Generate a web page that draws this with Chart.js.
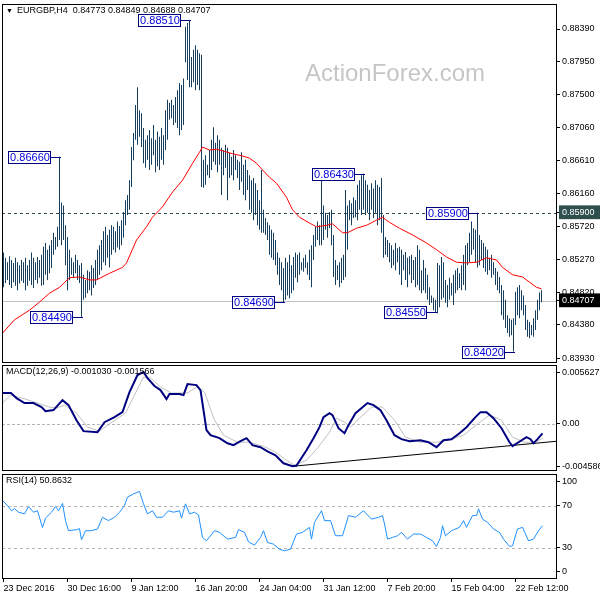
<!DOCTYPE html>
<html>
<head>
<meta charset="utf-8">
<script src="https://cdn.jsdelivr.net/npm/chart.js@4.4.0/dist/chart.umd.min.js"></script>
<style>
html, body { margin: 0; padding: 0; background: #fff; }
#wrap { position: relative; width: 600px; height: 600px; overflow: hidden; }
canvas { position: absolute; left: 0; }
</style>
</head>
<body>
<div id="wrap">
  <canvas id="main" width="600" height="364" style="top:0px"></canvas>
  <canvas id="macd" width="600" height="108" style="top:364px"></canvas>
  <canvas id="rsi" width="600" height="128" style="top:472px"></canvas>
</div>
<script>
// EURGBP H4 bars, 23 Dec 2016 .. 23 Feb 2017 (one entry per bar)
const highs = [
  0.8536,0.8529,0.8523,0.8531,0.8526,0.8522,0.8529,0.8523,0.8519,0.8526,
  0.8523,0.8529,0.8519,0.8526,0.8536,0.8529,0.8523,0.8530,0.8526,0.8533,
  0.8544,0.8549,0.8540,0.8546,0.8553,0.8563,0.8557,0.8571,0.8666,0.8604,
  0.8600,0.8573,0.8557,0.8540,0.8529,0.8523,0.8533,0.8526,0.8519,0.8522,
  0.8506,0.8499,0.8512,0.8510,0.8519,0.8515,0.8526,0.8540,0.8546,0.8553,
  0.8565,0.8571,0.8560,0.8567,0.8573,0.8571,0.8565,0.8578,0.8572,0.8580,
  0.8591,0.8607,0.8614,0.8634,0.8679,0.8698,0.8736,0.8760,0.8729,0.8725,
  0.8705,0.8689,0.8695,0.8702,0.8691,0.8709,0.8689,0.8700,0.8693,0.8705,
  0.8695,0.8729,0.8743,0.8739,0.8743,0.8736,0.8747,0.8756,0.8766,0.8763,
  0.8772,0.8842,0.8847,0.8851,0.8801,0.8811,0.8817,0.8811,0.8806,0.8804,
  0.8662,0.8668,0.8655,0.8675,0.8689,0.8706,0.8685,0.8695,0.8689,0.8678,
  0.8675,0.8682,0.8678,0.8671,0.8666,0.8675,0.8668,0.8662,0.8659,0.8672,
  0.8655,0.8662,0.8648,0.8641,0.8634,0.8637,0.8630,0.8621,0.8607,0.8648,
  0.8594,0.8583,0.8577,0.8573,0.8567,0.8563,0.8553,0.8536,0.8529,0.8523,
  0.8515,0.8529,0.8523,0.8533,0.8519,0.8530,0.8536,0.8533,0.8536,0.8523,
  0.8529,0.8533,0.8523,0.8540,0.8546,0.8560,0.8571,0.8578,0.8573,0.8634,
  0.8600,0.8590,0.8587,0.8591,0.8594,0.8560,0.8526,0.8519,0.8523,0.8529,
  0.8533,0.8621,0.8600,0.8607,0.8603,0.8611,0.8607,0.8628,0.8634,0.8641,
  0.8643,0.8634,0.8628,0.8621,0.8630,0.8623,0.8634,0.8628,0.8625,0.8637,
  0.8587,0.8557,0.8553,0.8549,0.8546,0.8540,0.8549,0.8542,0.8544,0.8540,
  0.8533,0.8537,0.8529,0.8531,0.8533,0.8526,0.8530,0.8546,0.8540,0.8512,
  0.8526,0.8515,0.8506,0.8489,0.8478,0.8475,0.8472,0.8522,0.8519,0.8530,
  0.8523,0.8499,0.8492,0.8502,0.8495,0.8506,0.8512,0.8515,0.8508,0.8519,
  0.8533,0.8546,0.8549,0.8563,0.8578,0.8569,0.8567,0.8590,0.8560,0.8553,
  0.8549,0.8544,0.8540,0.8529,0.8533,0.8523,0.8515,0.8510,0.8503,0.8492,
  0.8485,0.8472,0.8451,0.8447,0.8445,0.8447,0.8483,0.8489,0.8492,0.8485,
  0.8478,0.8465,0.8445,0.8442,0.8438,0.8447,0.8458,0.8472,0.8482,0.84849
];
const lows = [
  0.8489,0.8495,0.8499,0.8492,0.8488,0.8496,0.8491,0.8485,0.8494,0.8498,
  0.8495,0.8485,0.8491,0.8498,0.8492,0.8488,0.8499,0.8494,0.8502,0.8491,
  0.8492,0.8506,0.8499,0.8508,0.8515,0.8533,0.8540,0.8544,0.8553,0.8546,
  0.8553,0.8519,0.8485,0.8499,0.8506,0.8502,0.8508,0.8499,0.8495,0.8449,
  0.8472,0.8475,0.8481,0.8485,0.8478,0.8488,0.8492,0.8499,0.8506,0.8512,
  0.8523,0.8519,0.8529,0.8516,0.8533,0.8540,0.8536,0.8543,0.8540,0.8546,
  0.8556,0.8573,0.8587,0.8594,0.8625,0.8661,0.8689,0.8682,0.8693,0.8679,
  0.8657,0.8651,0.8662,0.8648,0.8655,0.8668,0.8645,0.8653,0.8648,0.8662,
  0.8655,0.8675,0.8689,0.8716,0.8718,0.8709,0.8712,0.8705,0.8695,0.8702,
  0.8709,0.8794,0.8770,0.8760,0.8760,0.8767,0.8756,0.8763,0.8756,0.8625,
  0.8624,0.8628,0.8641,0.8637,0.8648,0.8659,0.8655,0.8645,0.8655,0.8614,
  0.8641,0.8651,0.8607,0.8637,0.8641,0.8634,0.8648,0.8637,0.8621,0.8632,
  0.8614,0.8607,0.8621,0.8594,0.8590,0.8580,0.8587,0.8573,0.8567,0.8563,
  0.8563,0.8560,0.8553,0.8533,0.8529,0.8526,0.8519,0.8506,0.8492,0.8485,
  0.8469,0.8472,0.8478,0.8474,0.8481,0.8485,0.8502,0.8496,0.8506,0.8512,
  0.8510,0.8515,0.8506,0.8499,0.8489,0.8526,0.8544,0.8553,0.8546,0.8546,
  0.8553,0.8567,0.8556,0.8569,0.8546,0.8503,0.8492,0.8499,0.8489,0.8495,
  0.8499,0.8503,0.8540,0.8580,0.8573,0.8583,0.8584,0.8580,0.8594,0.8587,
  0.8594,0.8587,0.8590,0.8580,0.8594,0.8583,0.8590,0.8573,0.8580,0.8563,
  0.8529,0.8533,0.8530,0.8523,0.8515,0.8519,0.8512,0.8523,0.8506,0.8492,
  0.8512,0.8499,0.8489,0.8506,0.8495,0.8499,0.8489,0.8492,0.8485,0.8481,
  0.8485,0.8481,0.8472,0.8465,0.8468,0.8458,0.8455,0.8454,0.8462,0.8472,
  0.8475,0.8468,0.8462,0.8472,0.8478,0.8465,0.8481,0.8485,0.8488,0.8485,
  0.8492,0.8485,0.8519,0.8523,0.8533,0.8540,0.8523,0.8516,0.8519,0.8526,
  0.8515,0.8510,0.8506,0.8512,0.8502,0.8506,0.8492,0.8485,0.8481,0.8451,
  0.8445,0.8434,0.8427,0.8422,0.8424,0.8402,0.8438,0.8451,0.8447,0.8458,
  0.8451,0.8431,0.8422,0.8420,0.8424,0.8422,0.8431,0.8445,0.8458,0.84688
];

// moving average (red), read at bar positions
const maIdx = [-0.5,5.5,13,18,23,28,33,38,43,46.5,53,59.5,61.5,66.5,71.5,74.5,79.5,84.5,89.5,94.5,98,99.5,
  103,106.5,109.5,114.5,119.5,123,126.5,129.5,133,136.5,141.5,144.5,148,153,156.5,161.5,164.5,169.5,172,
  176.5,181.5,186.5,189.5,193,198,204.5,211.5,216.5,221.5,226.5,231.5,236.5,241.5,246.5,249.5,254.5,259.5,263,266.5,269];
const maVal = [0.8427,0.8445,0.8458,0.8469,0.8481,0.8489,0.8502,0.8503,0.8499,0.8499,0.8508,0.8516,0.8522,0.8553,
  0.8571,0.8584,0.8598,0.8618,0.8634,0.8657,0.8672,0.8679,0.8675,0.8676,0.8674,0.8670,0.8667,0.8664,0.8657,0.8648,
  0.8638,0.8630,0.8611,0.8594,0.8584,0.8576,0.8571,0.8573,0.8575,0.8563,0.8563,0.8569,0.8573,0.8580,0.8584,0.8577,
  0.8569,0.8560,0.8549,0.8540,0.8530,0.8523,0.8522,0.8523,0.8529,0.8526,0.8516,0.8506,0.8503,0.8496,0.8489,0.8487];

// labelled highs / lows
const markIdx = [93, 28, 39, 140, 180, 237, 216, 255];
const markVal = [0.8851, 0.8666, 0.8449, 0.8469, 0.8643, 0.8590, 0.8455, 0.8402];

const levelLine = 0.8590;
const lastClose = 0.84707;
const mainTicks = [0.8839,0.8795,0.8750,0.8706,0.8661,0.8616,0.8572,0.8527,0.8482,0.8438,0.8393, levelLine, lastClose];
const titleText = 'EURGBP,H4  0.84773 0.84849 0.84688 0.84707';

// MACD(12,26,9)
const macdIdx = [-0.5,3.75,6.5,10.5,15,19,21,25,29.5,32.5,36.5,40,47,50.5,55.5,59.5,63,67,70,72,75.5,78.5,81.5,83,88,90,92,
  96.5,98.5,101.5,103.5,108,112,115,118.5,121.5,124.5,128.5,132,136,140,144.5,146.5,151.5,155,158,160,163,164.5,167.5,
  170.5,172.5,176,182,185,188.5,191.5,195.5,199,203,208.5,212.5,216.5,220,224,228,231.5,235.5,238.5,241.5,245,249,253,
  254.5,257.5,261.5,263.5,265,267,269.5];
const macdVal = [0.00335,0.00335,0.00280,0.00226,0.00226,0.00183,0.00139,0.00150,0.00258,0.00204,0.00041,-0.00078,-0.00089,
  0.00019,0.00074,0.00128,0.00345,0.00530,0.00563,0.00497,0.00411,0.00367,0.00269,0.00324,0.00324,0.00313,0.00432,0.00421,
  0.00367,-0.00067,-0.00122,-0.00154,-0.00209,-0.00230,-0.00187,-0.00154,-0.00230,-0.00252,-0.00296,-0.00339,-0.00426,
  -0.00459,-0.00450,-0.00285,-0.00154,-0.00035,0.00074,0.00117,0.00096,-0.00046,-0.00100,-0.00013,0.00117,0.00226,0.00204,
  0.00150,0.00041,-0.00122,-0.00165,-0.00187,-0.00176,-0.00198,-0.00252,-0.00176,-0.00165,-0.00100,-0.00035,0.00063,0.00128,
  0.00128,0.00063,-0.00046,-0.00198,-0.00241,-0.00198,-0.00143,-0.00165,-0.00209,-0.00165,-0.00103];
const signalIdx = [-0.5,3.5,9.5,17,23,26.5,30.5,36.5,42,48,53.5,61,65,70,73.5,78.5,84,92,96.5,100.5,105.5,110,117,122.5,
  130,136,141.5,145.5,151.5,157,163,166.5,170.5,173.5,178,184,189.5,195.5,201,208.5,216.5,222,230,237.5,243,249,254.5,
  260.5,266,269.5];
const signalVal = [0.00226,0.00313,0.00280,0.00226,0.00183,0.00172,0.00204,0.00117,-0.00035,-0.00078,0.00009,0.00117,
  0.00291,0.00508,0.00497,0.00400,0.00335,0.00335,0.00400,0.00345,0.00041,-0.00122,-0.00198,-0.00198,-0.00241,-0.00306,
  -0.00393,-0.00448,-0.00393,-0.00263,-0.00089,0.00063,0.00019,-0.00035,0.00063,0.00183,0.00183,0.00041,-0.00143,-0.00198,
  -0.00198,-0.00176,-0.00122,0.00009,0.00096,0.00041,-0.00143,-0.00198,-0.00198,-0.001566];
const trendIdx = [144.5, 276.75];
const trendVal = [-0.00459, -0.00187];
const macdTicks = [0.005627, 0, -0.004586];
const macdTickText = ['0.005627', '0.00', '-0.004586'];
const macdTitle = 'MACD(12,26,9) -0.001030 -0.001566';

// RSI(14)
const rsiIdx = [-0.5,2,4,5.5,7.5,10.5,12.5,15,17,19.5,21,24,26,27.5,29.5,31,32.5,36.5,38,39,41,44,47,49.5,52.5,55.5,58,
  60.5,62,65,68,70,72,74.5,76.5,79.5,82.5,85,88,89,91,93,95.5,97.5,99.5,101.5,105.5,108,112,116,117.5,120.5,122.5,125.5,
  128.5,130,132,135,138,140.5,143.5,146.5,149.5,153,154,155.5,159,160.5,163.5,166,169.5,172.5,176,180,184,187.5,189.5,
  190.5,192,194.5,197,199,202,205,208.5,211.5,214.5,216.5,218.5,219.5,221,224,228,230,231.5,234.5,236.5,237.5,239.5,
  242,245,248,250,253,254.5,257,259.5,262.5,265,267.5,269.5];
const rsiVal = [74.8,70,65,67,63.6,62,69,63.6,65,49,58,63.6,69,65,72,55.6,46,47,48,37.4,46,46,47.6,58.8,55.6,58.8,63.6,
  70,78,81,83.4,71.6,62,65,58.8,58.8,65,63.6,65,58,71.6,62,63.6,61,39.6,36.4,46,44.4,38,39.6,47,44.4,35.4,32.2,
  39.6,46,34.8,33.2,28.4,26.8,28.4,42.8,44.4,49.2,38,54,65,55.6,55.6,41.2,41.2,60.4,58.8,65,57,58.8,60.4,
  52.4,38,39.6,41.2,44.4,38,42.8,42.8,39.6,36.4,31,39.6,50.8,41.2,46,49.2,55.6,49.2,60.4,60.4,66.8,57,
  54,47.6,44.4,38,31,31.6,47.6,49.2,36.4,38,46,50.86];
const rsiLevels = [70, 30];
const rsiTicks = [92.7, 70, 30, 6.7];
const rsiTickText = ['100', '70', '30', '0'];
const rsiTitle = 'RSI(14) 50.8632';

// time axis
const timeIdx = [0, 32, 64, 96, 128, 160, 192, 224, 256];
const timeText = ['23 Dec 2016', '30 Dec 16:00', '9 Jan 12:00', '16 Jan 20:00', '24 Jan 04:00',
  '31 Jan 12:00', '7 Feb 20:00', '15 Feb 04:00', '22 Feb 12:00'];

const FONT = "'Liberation Sans', Arial, 'DejaVu Sans', sans-serif";
const axFont = { family: FONT, size: 9 };
const X_MIN = -0.75, X_MAX = 276.75;

const pts = (xs, ys) => xs.map((x, i) => ({ x: x, y: ys[i] }));

function rightAxis(min, max, tickVals, textFn) {
  return {
    position: 'right', min: min, max: max,
    afterFit: s => { s.width = 43; s.paddingTop = 0; s.paddingBottom = 0; },
    afterBuildTicks: s => { s.ticks = tickVals.map(v => ({ value: v })); },
    grid: { drawOnChartArea: false, drawTicks: true, tickLength: 3, color: '#000' },
    border: { display: false },
    ticks: { autoSkip: false, padding: 2, color: '#000', font: axFont, callback: textFn }
  };
}

function hiddenX() {
  return { type: 'linear', min: X_MIN, max: X_MAX, display: false, offset: false, grid: { offset: false } };
}

function decor(o) {
  return {
    id: 'decor',
    beforeDatasetsDraw(chart) {
      const ctx = chart.ctx, a = chart.chartArea, ys = chart.scales.y;
      ctx.save();
      (o.levels || []).forEach(l => {
        const y = Math.round(ys.getPixelForValue(l.v)) + 0.5;
        ctx.strokeStyle = l.c; ctx.lineWidth = 1; ctx.setLineDash(l.d || []);
        ctx.beginPath(); ctx.moveTo(a.left, y); ctx.lineTo(a.right, y); ctx.stroke();
      });
      ctx.setLineDash([]);
      if (o.watermark) {
        ctx.fillStyle = '#c6c6c6';
        ctx.font = '24px ' + FONT;
        ctx.textBaseline = 'alphabetic';
        ctx.fillText(o.watermark, 305, 81);
      }
      ctx.restore();
    },
    afterDatasetsDraw(chart) {
      if (!o.marks) return;
      const ctx = chart.ctx, xs = chart.scales.x, ys = chart.scales.y;
      ctx.save();
      ctx.lineWidth = 1;
      markIdx.forEach((bi, k) => {
        const bx = Math.round(xs.getPixelForValue(bi));
        const y = Math.round(ys.getPixelForValue(markVal[k]));
        const right = bx - 9, left = right - 43;
        ctx.strokeStyle = '#000080';
        ctx.beginPath(); ctx.moveTo(right, y + 0.5); ctx.lineTo(bx + 1, y + 0.5); ctx.stroke();
        ctx.fillStyle = '#fff';
        ctx.fillRect(left, y - 6, 43, 13);
        ctx.strokeRect(left + 0.5, y - 5.5, 42, 12);
        ctx.fillStyle = '#0000dd';
        ctx.font = '11px ' + FONT;
        ctx.textAlign = 'center'; ctx.textBaseline = 'middle';
        ctx.fillText(markVal[k].toFixed(5), left + 22, y + 1);
      });
      ctx.restore();
    },
    afterDraw(chart) {
      const ctx = chart.ctx, a = chart.chartArea;
      ctx.save();
      ctx.strokeStyle = '#000'; ctx.lineWidth = 1;
      ctx.strokeRect(a.left + 0.5, a.top + 0.5, a.right - a.left - 1, a.bottom - a.top - 1);
      ctx.fillStyle = '#000';
      ctx.textBaseline = 'middle'; ctx.textAlign = 'left';
      if (o.arrow) {
        ctx.font = '7px ' + FONT;
        ctx.fillText('\u25BC', 6, a.top + 7);
      }
      ctx.font = '9px ' + FONT;
      ctx.fillText(o.title, o.titleX, a.top + 7);
      ctx.restore();
    }
  };
}

const common = {
  animation: false, responsive: false, events: [],
  plugins: { legend: { display: false }, tooltip: { enabled: false } }
};

const isHl = v => v === levelLine || v === lastClose;

const mainY = rightAxis(0.838643, 0.887288, mainTicks, (v, i) => mainTicks[i].toFixed(5));
// highlight the level and last-price labels on the price axis
mainY.ticks.showLabelBackdrop = c => isHl(c.tick.value);
mainY.ticks.backdropColor = c => (c.tick.value === levelLine ? '#2f4f4f' : '#000');
mainY.ticks.backdropPadding = { top: 2, bottom: 1, left: 3, right: 12 };
mainY.ticks.color = c => (isHl(c.tick.value) ? '#fff' : '#000');

new Chart(document.getElementById('main'), {
  type: 'bar',
  data: {
    datasets: [
      { type: 'line', data: pts(maIdx, maVal), borderColor: '#ff0000', borderWidth: 1, pointRadius: 0, tension: 0 },
      { type: 'bar', data: highs.map((h, i) => ({ x: i, y: [lows[i], h] })), backgroundColor: '#173e5c',
        borderWidth: 0, barThickness: 1, inflateAmount: 0, grouped: false }
    ]
  },
  options: Object.assign({}, common, {
    layout: { padding: { left: 2, right: 0, top: 4, bottom: 1 } },
    scales: { x: hiddenX(), y: mainY }
  }),
  plugins: [decor({
    title: titleText, titleX: 17, arrow: true, watermark: 'ActionForex.com', marks: true,
    levels: [{ v: lastClose, c: '#c0c0c0' }, { v: levelLine, c: '#2f4f4f', d: [3, 3] }]
  })]
});

new Chart(document.getElementById('macd'), {
  type: 'line',
  data: {
    datasets: [
      { data: pts(macdIdx, macdVal), borderColor: '#000080', borderWidth: 2, pointRadius: 0, tension: 0 },
      { data: pts(signalIdx, signalVal), borderColor: '#c0c0c0', borderWidth: 1, pointRadius: 0, tension: 0 },
      { data: pts(trendIdx, trendVal), borderColor: '#000', borderWidth: 1, pointRadius: 0, tension: 0 }
    ]
  },
  options: Object.assign({}, common, {
    layout: { padding: { left: 2, right: 0, top: 1, bottom: 1 } },
    scales: {
      x: hiddenX(),
      y: rightAxis(-0.005097, 0.006388, macdTicks, (v, i) => macdTickText[i])
    }
  }),
  plugins: [decor({ title: macdTitle, titleX: 6, levels: [{ v: 0, c: '#b4b4b4', d: [3, 2] }] })]
});

new Chart(document.getElementById('rsi'), {
  type: 'line',
  data: {
    datasets: [
      { data: pts(rsiIdx, rsiVal), borderColor: '#1e90ff', borderWidth: 1, pointRadius: 0, tension: 0 }
    ]
  },
  options: Object.assign({}, common, {
    layout: { padding: { left: 2, right: 0, top: 2, bottom: 0 } },
    scales: {
      x: {
        type: 'linear', min: X_MIN, max: X_MAX, offset: false,
        afterBuildTicks: s => { s.ticks = timeIdx.map(v => ({ value: v })); },
        afterFit: s => { s.height = 21; s.paddingLeft = 0; s.paddingRight = 0; },
        grid: { drawOnChartArea: false, drawTicks: true, tickLength: 3, color: '#000', offset: false },
        border: { display: false },
        ticks: { autoSkip: false, maxRotation: 0, minRotation: 0, align: 'start', padding: 1,
          color: '#000', font: axFont, callback: (v, i) => timeText[i] }
      },
      y: rightAxis(0, 100, rsiTicks, (v, i) => rsiTickText[i])
    }
  }),
  plugins: [decor({ title: rsiTitle, titleX: 6, levels: rsiLevels.map(v => ({ v: v, c: '#b4b4b4', d: [3, 3] })) })]
});
</script>
</body>
</html>
